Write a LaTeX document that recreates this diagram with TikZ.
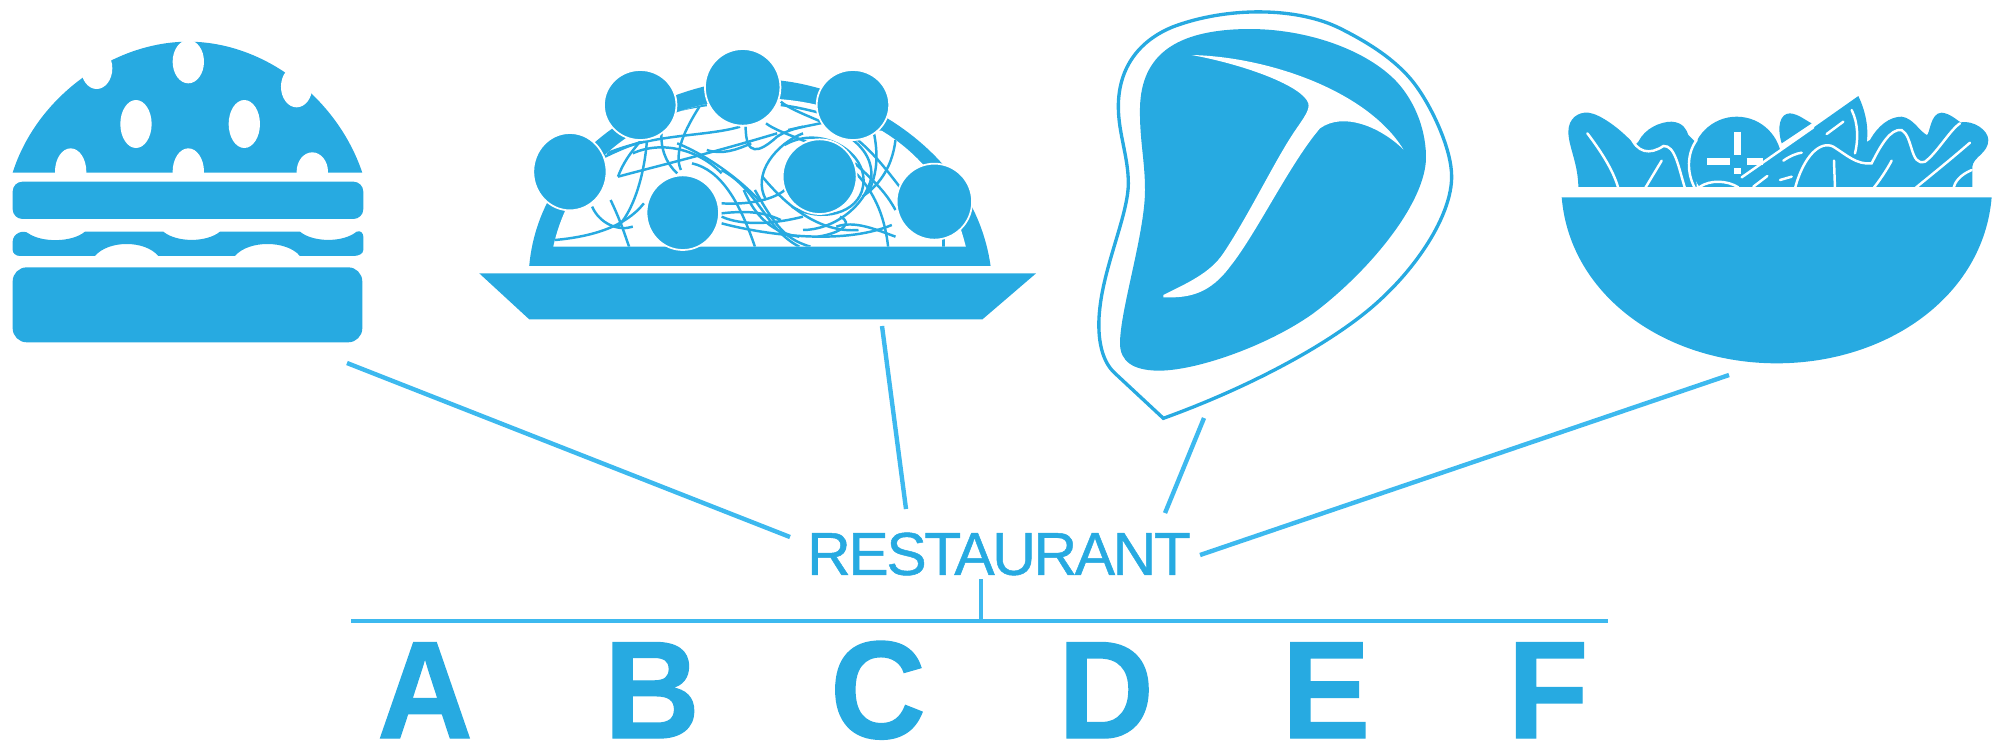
\documentclass[tikz,border=0pt]{standalone}
\usepackage{fontspec}
\setmainfont{Liberation Sans}
\newfontfamily\restfont[LetterSpace=-4,FakeBold=0.8]{Liberation Sans}
\newfontfamily\letterfont[FakeStretch=0.95,FakeBold=1]{Liberation Sans Bold}
\usepackage{color}
\definecolor{iconblue}{HTML}{27AAE1}
\definecolor{lineblue}{HTML}{3DB9EF}
\tikzset{
  iconfill/.style={fill=iconblue, draw=none},
  gapfill/.style={fill=white, draw=none},
  meatball/.style={fill=iconblue, draw=white, line width=0.5pt},
  noodle/.style={draw=iconblue, line width=0.7pt},
  vein/.style={draw=white, line width=0.7pt, line cap=round},
  thickvein/.style={draw=white, line width=1.9pt},
  link/.style={draw=lineblue, line width=1.25pt},
  restlabel/.style={text=iconblue, inner sep=0pt, font=\restfont\fontsize{17.2}{18}\selectfont},
  letterlabel/.style={text=iconblue, inner sep=0pt, anchor=base, font=\letterfont\fontsize{39.5}{40}\selectfont},
}
\begin{document}
\begin{tikzpicture}[x=0.01cm, y=-0.01cm]
\useasboundingbox (0,0) rectangle (1992,741);

\begin{scope}[shift={(0,20)}, scale=0.3333]
\fill [iconfill] (38,458) .. controls (110,230) and (340,65) .. (565,65) .. controls (790,65) and (1010,230) .. (1087,458) -- cycle;
\foreach \hx/\hy/\hr in {290/145/62, 565/125/65, 890/200/62, 408/312/72, 733/312/72, 212/455/70, 565/455/70, 937/455/58}
  \fill [gapfill] (\hx,\hy) circle [x radius=47, y radius=\hr];
\fill [gapfill] (0,459) rectangle (1120,484);
\fill [iconfill, rounded corners=2.8pt] (38,485) rectangle (1090,597);
\fill [iconfill] (38,665) .. controls (38,640) and (70,628) .. (85,640) .. controls (125,668) and (215,668) .. (255,635) -- (490,635) .. controls (530,668) and (620,668) .. (660,635) -- (900,635) .. controls (940,668) and (1030,668) .. (1070,635) .. controls (1082,630) and (1090,640) .. (1090,650) -- (1090,690) .. controls (1090,702) and (1075,708) .. (1060,708) -- (900,708) .. controls (860,660) and (745,660) .. (705,708) -- (475,708) .. controls (435,660) and (325,660) .. (285,708) -- (60,708) .. controls (48,708) and (38,700) .. (38,690) -- cycle;
\fill [iconfill, rounded corners=4pt] (38,742) rectangle (1087,967);
\end{scope}

\begin{scope}[shift={(470,30)}, xscale=0.37, yscale=0.3333]
\fill [iconfill] (160,708) .. controls (190,340) and (540,148) .. (783,148) .. controls (1010,148) and (1360,340) .. (1407,708) -- cycle;
\fill [gapfill] (225,650) .. controls (290,330) and (560,205) .. (783,205) .. controls (1010,205) and (1270,330) .. (1340,650) -- cycle;
\begin{scope}
\clip (225,650) .. controls (290,330) and (560,205) .. (783,205) .. controls (1010,205) and (1270,330) .. (1340,650) -- cycle;
\draw [noodle] (230,630) .. controls (330,620) and (420,590) .. (470,520);
\draw [noodle] (330,530) .. controls (350,580) and (400,605) .. (440,590);
\draw [noodle] (380,510) .. controls (410,580) and (420,620) .. (430,650);
\draw [noodle] (365,380) .. controls (420,350) and (450,340) .. (480,330);
\draw [noodle] (400,440) .. controls (420,380) and (450,350) .. (470,320);
\draw [noodle] (400,440) .. controls (500,410) and (650,370) .. (830,310);
\draw [noodle] (480,280) .. controls (480,400) and (450,530) .. (400,590);
\draw [noodle] (620,230) .. controls (580,300) and (550,370) .. (570,420);
\draw [noodle] (560,340) .. controls (650,380) and (740,460) .. (780,510);
\draw [noodle] (600,400) .. controls (680,420) and (730,520) .. (770,650);
\draw [noodle] (680,420) .. controls (780,480) and (800,600) .. (890,650);
\draw [noodle] (370,370) .. controls (500,310) and (640,320) .. (730,290);
\draw [noodle] (745,290) .. controls (745,380) and (780,370) .. (830,320) .. controls (850,305) and (880,295) .. (900,290);
\draw [noodle] (800,510) .. controls (760,430) and (830,340) .. (900,310);
\draw [noodle] (850,345) .. controls (950,280) and (1080,370) .. (1062,470) .. controls (1050,550) and (950,580) .. (870,530);
\draw [noodle] (680,520) .. controls (750,525) and (830,510) .. (860,470);
\draw [noodle] (680,580) .. controls (780,610) and (1000,650) .. (1140,585);
\draw [noodle] (680,550) .. controls (760,540) and (800,550) .. (840,570);
\draw [noodle] (800,280) .. controls (870,340) and (1100,350) .. (1130,650);
\draw [noodle] (840,215) .. controls (900,270) and (1090,300) .. (1085,440) .. controls (1070,530) and (980,600) .. (900,600);
\draw [noodle] (840,225) .. controls (950,240) and (1050,290) .. (1120,300);
\draw [noodle] (1090,300) .. controls (1110,400) and (1090,450) .. (1080,480);
\draw [noodle] (1150,330) .. controls (1140,420) and (1100,470) .. (1060,500);
\draw [noodle] (1040,400) .. controls (1110,470) and (1130,500) .. (1150,540);
\draw [noodle] (640,225) .. controls (540,240) and (470,270) .. (400,320);
\draw [noodle] (770,480) .. controls (830,600) and (860,630) .. (920,650);
\draw [noodle] (1000,560) .. controls (1040,580) and (1000,610) .. (940,620);
\draw [noodle] (1030,260) .. controls (950,280) and (900,290) .. (860,300);
\draw [noodle] (640,360) .. controls (680,375) and (720,360) .. (760,340);
\draw [noodle] (520,290) .. controls (510,350) and (530,400) .. (560,430);
\draw [noodle] (440,370) .. controls (520,330) and (620,360) .. (680,430);
\draw [noodle] (740,480) .. controls (770,560) and (820,610) .. (890,620);
\draw [noodle] (1010,300) .. controls (1100,360) and (1160,480) .. (1200,520);
\draw [noodle] (1150,620) .. controls (1100,600) and (1040,570) .. (990,590);
\draw [noodle] (680,560) .. controls (740,590) and (830,580) .. (900,560);
\draw [noodle] (790,440) .. controls (850,520) and (940,610) .. (1050,600);
\draw [noodle] (1280,620) -- (1280,650);
\end{scope}
\foreach \bx/\by/\brx/\bry in {460/225/98/105, 1035/225/98/105, 737/172/102/115, 270/425/99/116, 945/440/100/112, 575/548/98/112, 1255/515/102/114}
  \filldraw [meatball] (\bx,\by) circle [x radius=\brx, y radius=\bry];
\fill [iconfill] (25,730) -- (1530,730) -- (1385,868) -- (160,868) -- cycle;
\end{scope}

\begin{scope}[shift={(1080,0)}, scale=0.3333]
\draw [draw=iconblue, line width=0.95pt] (250,1255) -- (105,1120) .. controls (60,1080) and (50,1000) .. (60,920) .. controls (75,790) and (145,640) .. (145,550) .. controls (145,470) and (115,400) .. (115,320) .. controls (115,200) and (180,120) .. (280,80) .. controls (440,20) and (650,20) .. (780,85) .. controls (880,135) and (960,190) .. (1010,260) .. controls (1060,330) and (1115,450) .. (1115,530) .. controls (1115,640) and (1020,790) .. (900,900) .. controls (760,1030) and (500,1165) .. (250,1255) -- cycle;
\fill [iconfill] (120,1030) .. controls (120,930) and (195,700) .. (195,570) .. controls (195,480) and (178,420) .. (180,320) .. controls (185,170) and (280,90) .. (500,87) .. controls (680,85) and (860,150) .. (950,245) .. controls (1010,310) and (1040,400) .. (1038,480) .. controls (1030,620) and (860,820) .. (700,940) .. controls (560,1040) and (340,1115) .. (230,1112) .. controls (160,1110) and (120,1085) .. (120,1030) -- cycle;
\fill [gapfill] (335,165) .. controls (560,170) and (860,270) .. (970,448) .. controls (900,380) and (790,335) .. (720,385) .. controls (630,490) and (530,700) .. (450,800) .. controls (390,880) and (330,895) .. (250,892) -- (250,885) .. controls (320,850) and (390,820) .. (430,760) .. controls (510,640) and (590,470) .. (650,385) .. controls (670,355) and (690,330) .. (685,310) .. controls (670,260) and (500,195) .. (335,165) -- cycle;
\end{scope}

\begin{scope}[shift={(1550,90)}, scale=0.3333]
\fill [iconfill] (35,322) -- (1325,322) .. controls (1300,620) and (1010,820) .. (680,820) .. controls (350,820) and (60,620) .. (35,322) -- cycle;
\begin{scope}
\clip (0,0) rectangle (1326,290);
\fill [iconfill] (85,295) .. controls (85,220) and (55,170) .. (55,125) .. controls (55,85) and (85,65) .. (115,68) .. controls (150,72) and (210,115) .. (255,165) -- (265,155) .. controls (285,115) and (330,95) .. (365,95) .. controls (400,97) and (410,120) .. (415,135) -- (435,155) -- (440,295) -- cycle;
\fill [iconfill] (560,215) circle (135);
\fill [iconfill] (695,160) .. controls (680,110) and (690,70) .. (720,70) .. controls (745,72) and (765,90) .. (785,100) -- cycle;
\fill [iconfill] (570,268) -- (925,18) .. controls (950,70) and (960,130) .. (945,180) -- (850,300) -- (570,300) -- cycle;
\fill [iconfill] (700,295) -- (960,150) .. controls (985,105) and (1020,80) .. (1055,80) .. controls (1090,85) and (1105,120) .. (1130,135) .. controls (1140,135) and (1140,68) .. (1175,68) .. controls (1200,70) and (1220,90) .. (1232,97) .. controls (1270,90) and (1315,120) .. (1315,150) .. controls (1315,190) and (1270,200) .. (1267,230) -- (1267,295) -- cycle;
\draw [vein] (112,130) .. controls (150,180) and (190,240) .. (205,295);
\draw [vein] (240,135) .. controls (260,190) and (300,195) .. (340,168) .. controls (375,165) and (385,230) .. (405,295);
\draw [vein] (335,212) -- (285,295);
\draw [vein] (440,150) .. controls (410,190) and (410,250) .. (435,295);
\draw [vein] (450,290) .. controls (480,270) and (530,270) .. (565,292);
\draw [vein] (575,262) -- (790,112);
\draw [vein] (610,290) -- (652,258);
\draw [vein] (700,212) .. controls (720,198) and (740,190) .. (755,188);
\draw [vein] (690,270) -- (725,260);
\draw [vein] (830,132) -- (880,95);
\draw [vein] (905,60) .. controls (925,100) and (925,150) .. (915,190);
\draw [vein] (735,295) .. controls (760,200) and (810,150) .. (850,170) .. controls (890,195) and (920,225) .. (965,220) .. controls (990,170) and (1020,115) .. (1055,120) .. controls (1090,140) and (1080,230) .. (1125,215) .. controls (1160,190) and (1200,120) .. (1230,100);
\draw [vein] (852,212) -- (855,295);
\draw [vein] (1025,212) .. controls (1010,240) and (990,270) .. (970,295);
\draw [vein] (1260,158) .. controls (1200,210) and (1150,250) .. (1095,295);
\draw [vein] (1265,240) .. controls (1230,255) and (1215,275) .. (1210,295);
\draw [thickvein] (562,125) -- (562,195);
\draw [thickvein] (472,215) -- (540,215);
\draw [thickvein] (562,235) -- (562,252);
\draw [thickvein] (590,215) -- (640,215);
\end{scope}
\end{scope}

\node [restlabel] (restaurant) at (999,554) {RESTAURANT};
\foreach \name/\xpos in {A/425, B/652, C/878, D/1106, E/1326, F/1548}
  \node [letterlabel] (letter\name) at (\xpos,738) {\name};

\coordinate (burgerfoot) at (347,363);
\coordinate (pastafoot) at (882,326);
\coordinate (steakfoot) at (1204,418);
\coordinate (saladfoot) at (1729,375);
\coordinate (restleft) at ([shift={(-209,-17)}]restaurant.center);
\coordinate (resttopl) at ([shift={(-93,-45)}]restaurant.center);
\coordinate (resttopr) at ([shift={(166,-41)}]restaurant.center);
\coordinate (restright) at ([shift={(201,1)}]restaurant.center);
\coordinate (restfoot) at ([shift={(-18,25)}]restaurant.center);
\coordinate (barleft) at (351,621);
\coordinate (barright) at (1608,621);
\coordinate (barjoin) at (981,621);

\draw [link] (burgerfoot) -- (restleft);
\draw [link] (pastafoot) -- (resttopl);
\draw [link] (steakfoot) -- (resttopr);
\draw [link] (saladfoot) -- (restright);
\draw [link] (restfoot) -- (barjoin);
\draw [link] (barleft) -- (barright);
\end{tikzpicture}
\end{document}
